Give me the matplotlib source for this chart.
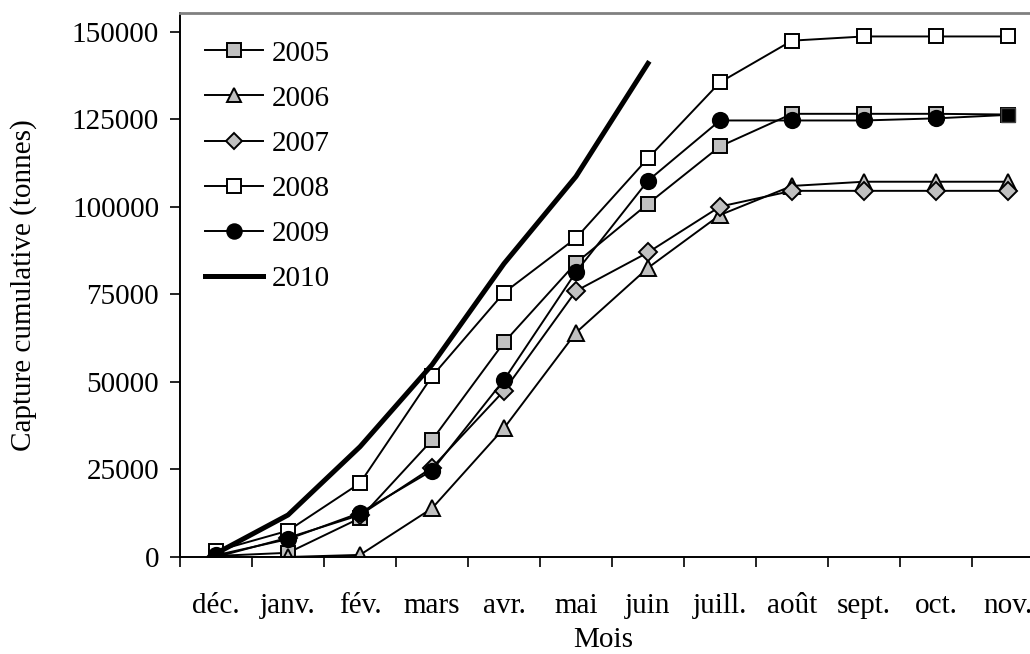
import matplotlib
matplotlib.use("Agg")
import matplotlib.pyplot as plt

plt.rcParams["font.family"] = ["Liberation Serif", "DejaVu Serif"]

mois = ["déc.", "janv.", "fév.", "mars", "avr.", "mai", "juin",
        "juill.", "août", "sept.", "oct.", "nov."]

y2005 = [300, 1200, 11100, 33400, 61300, 84000, 100900, 117300, 126600, 126600, 126600, 126400]
y2006 = [0, 0, 600, 13900, 36800, 64100, 82600, 97700, 106000, 107200, 107200, 107200]
y2007 = [0, 5500, 12000, 25500, 47500, 76000, 87000, 100100, 104600, 104600, 104600, 104600]
y2008 = [1700, 7500, 21100, 51600, 75500, 91100, 113900, 135600, 147500, 148700, 148700, 148700]
y2009 = [500, 5100, 12600, 24700, 50600, 81400, 107500, 124700, 124700, 124700, 125300, 126300]
y2010 = [1000, 12000, 31500, 54900, 83800, 108700, 141000]

yticks = [0, 25000, 50000, 75000, 100000, 125000, 150000]

gris = "#c0c0c0"
fs = 21
fig = plt.figure(figsize=(10.30, 6.54), dpi=100)
ax = fig.add_axes([180 / 1030, 97 / 654, 864 / 1030, 544 / 654])

x = list(range(len(mois)))
common = dict(color="black", lw=1.4, mec="black", mew=1.4)
ax.plot(x, y2005, marker="s", ms=10, mfc=gris, label="2005", **common)
ax.plot(x, y2006, marker="^", ms=11, mfc=gris, label="2006", **common)
ax.plot(x, y2007, marker="D", ms=9, mfc=gris, label="2007", **common)
ax.plot(x, y2008, marker="s", ms=10, mfc="white", label="2008", **common)
ax.plot(x, y2009, marker="o", ms=11, mfc="black", label="2009", markevery=list(range(11)), **common)
ax.plot(x[-1:], y2009[-1:], marker="s", ms=10, mfc="black", mec="#404040", ls="none")
ax.plot(x[:len(y2010)], y2010, color="black", lw=3.6, label="2010")

ax.set_xlim(-0.5, 11.5)
ax.set_ylim(0, 155400)
ax.set_xticks([i - 0.5 for i in range(13)])
ax.set_xticklabels([])
ax.set_xticks(x, minor=True)
ax.set_xticklabels(mois, minor=True)
ax.tick_params(axis="x", which="major", direction="out", length=7, width=1.2)
ax.tick_params(axis="x", which="minor", length=0, pad=26, labelsize=fs)
ax.set_yticks(yticks)
ax.set_yticklabels([str(v) for v in yticks])
ax.tick_params(axis="y", direction="out", length=7, width=1.2, pad=8, labelsize=fs)

for s in ("left", "bottom"):
    ax.spines[s].set_color("black")
    ax.spines[s].set_linewidth(1.4)
ax.spines["top"].set_color("#808080")
ax.spines["top"].set_linewidth(2)
ax.spines["right"].set_visible(False)

ax.set_xlabel("Mois", fontsize=fs)
ax.xaxis.set_label_coords(0.49, -0.128)
ax.set_ylabel("Capture cumulative (tonnes)", fontsize=fs)
ax.yaxis.set_label_coords(-0.165, 0.5)

ax.legend(loc="upper left", bbox_to_anchor=(0.029, 0.95), frameon=False,
          fontsize=fs, handlelength=2.0, handletextpad=0.3, labelspacing=0.64,
          borderpad=0, borderaxespad=0, markerscale=0.95)

fig.savefig("out.png", dpi=100)
